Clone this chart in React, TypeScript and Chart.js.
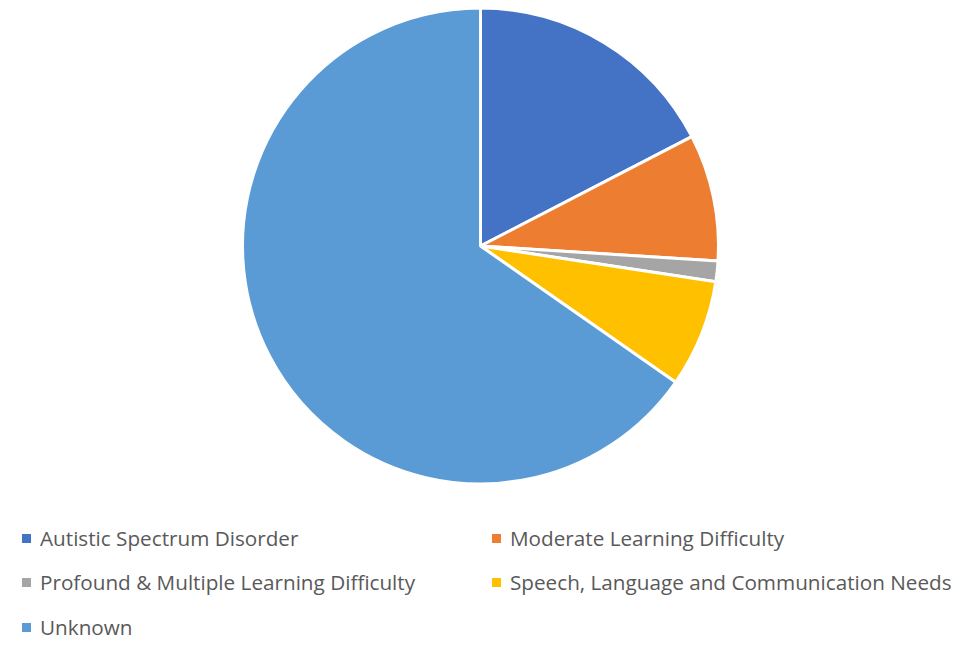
import React, { useEffect, useRef } from "react";
import { Chart, registerables } from "chart.js";

Chart.register(...registerables);

const categories = [
  "Autistic Spectrum Disorder",
  "Moderate Learning Difficulty",
  "Profound & Multiple Learning Difficulty",
  "Speech, Language and Communication Needs",
  "Unknown",
];
const values = [17.4, 8.6, 1.4, 7.3, 65.3];
const colors = ["#4472C4", "#ED7D31", "#A5A5A5", "#FFC000", "#5B9BD5"];

const legendPos = [
  { left: 22, top: 538 },
  { left: 492, top: 538 },
  { left: 22, top: 582 },
  { left: 492, top: 582 },
  { left: 22, top: 627 },
];

export default function App() {
  const ref = useRef<HTMLCanvasElement | null>(null);
  useEffect(() => {
    if (!ref.current) return;
    const chart = new Chart(ref.current, {
      type: "pie",
      data: {
        labels: categories,
        datasets: [
          {
            data: values,
            backgroundColor: colors,
            borderColor: "#ffffff",
            borderWidth: 3,
          },
        ],
      },
      options: {
        animation: false,
        responsive: false,
        layout: { padding: { left: 241, right: 254, top: 6, bottom: 6 } },
        plugins: { legend: { display: false }, tooltip: { enabled: false } },
      },
    });
    return () => chart.destroy();
  }, []);
  return (
    <div style={{ position: "absolute", left: 0, top: 0, width: 974, height: 648, background: "#fff", overflow: "hidden" }}>
      <canvas ref={ref} width={974} height={492} style={{ position: "absolute", left: 0, top: 0, width: 974, height: 492 }} />
      {categories.map((c, i) => (
        <div
          key={c}
          style={{
            position: "absolute",
            left: legendPos[i].left,
            top: legendPos[i].top - 14,
            height: 28,
            display: "flex",
            alignItems: "center",
            fontFamily: "'Open Sans', sans-serif",
            fontSize: 20.7,
            color: "#595959",
            whiteSpace: "nowrap",
          }}
        >
          <span style={{ display: "inline-block", width: 9, height: 9, background: colors[i], marginRight: 9 }} />
          <span>{c}</span>
        </div>
      ))}
    </div>
  );
}
